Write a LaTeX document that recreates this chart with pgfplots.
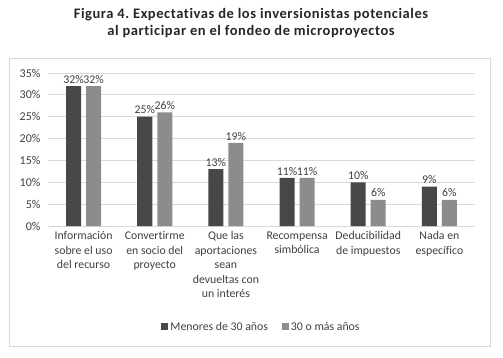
\documentclass[border=0pt]{standalone}
\usepackage{fontspec}
\setmainfont{Carlito}[Ligatures=NoCommon]
\usepackage{pgfplots}
\pgfplotsset{compat=1.18}
\definecolor{darkbar}{HTML}{474747}
\definecolor{lightbar}{HTML}{8C8C8C}
\definecolor{gridc}{HTML}{D9D9D9}
\definecolor{txt}{HTML}{404040}
\frenchspacing
\begin{document}
\begin{tikzpicture}[x=1pt,y=1pt]
\useasboundingbox (0,0) rectangle (503,357);
\fill[white] (0,0) rectangle (503,357);
\draw[gridc, line width=0.8pt] (9,11) rectangle (490,299);
\node[font=\bfseries\fontsize{14.5}{17}\selectfont\addfontfeature{LetterSpace=4}, align=center, text=black!85] at (251,334) {Figura 4. Expectativas de los inversionistas potenciales\\al participar en el fondeo de microproyectos};
\begin{axis}[
  at={(48pt,131pt)}, anchor=south west,
  scale only axis, width=427pt, height=153pt,
  ybar=5pt, bar width=15pt,
  xmin=-0.5, xmax=5.5, ymin=0, ymax=35,
  ytick={0,5,...,35},
  yticklabel={\pgfmathprintnumber{\tick}\%},
  xtick={0,1,2,3,4,5},
  xticklabels={{Información\\sobre el uso\\del recurso},{Convertirme\\en socio del\\proyecto},{Que las\\aportaciones\\sean\\devueltas con\\un interés},{Recompensa\\simbólica},{Deducibilidad\\de impuestos},{Nada en\\específico}},
  xticklabel style={align=center, font=\fontsize{11.8}{14.5}\selectfont, text=txt, yshift=-2pt},
  yticklabel style={font=\fontsize{12}{13}\selectfont, text=txt, xshift=-4pt},
  /pgf/number format/assume math mode=true,
  major tick length=0pt,
  ymajorgrids, grid style={gridc, line width=0.8pt},
  axis line style={draw=none},
  nodes near coords={\pgfmathprintnumber{\pgfplotspointmeta}\%},
  every node near coord/.append style={font=\fontsize{11.8}{13}\selectfont, text=txt, inner sep=2.5pt},
  legend columns=2,
  legend style={at={(0.5,-0.66)}, anchor=center, draw=none, font=\fontsize{11.8}{13}\selectfont, text=txt, /tikz/every even column/.append style={column sep=12pt}},
  legend image code/.code={\fill[#1] (0pt,-3.5pt) rectangle (7pt,3.5pt);},
]
\addplot[fill=darkbar, draw=none] coordinates {(0,32) (1,25) (2,13) (3,11) (4,10) (5,9)};
\addplot[fill=lightbar, draw=none] coordinates {(0,32) (1,26) (2,19) (3,11) (4,6) (5,6)};
\legend{Menores de 30 años, 30 o más años}
\end{axis}
\end{tikzpicture}
\end{document}
